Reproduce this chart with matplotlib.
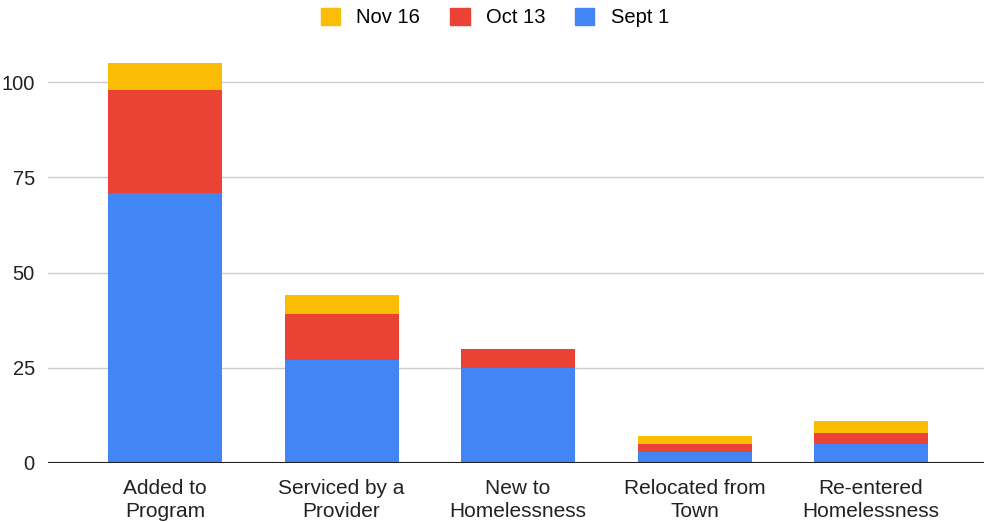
import numpy as np
import matplotlib
matplotlib.use("Agg")
import matplotlib.pyplot as plt
from matplotlib.patches import Patch

plt.rcParams['font.family'] = ['Liberation Sans', 'DejaVu Sans']

categories = ["Added to\nProgram", "Serviced by a\nProvider", "New to\nHomelessness",
              "Relocated from\nTown", "Re-entered\nHomelessness"]
sept_1 = [71, 27, 25, 3, 5]
oct_13 = [27, 12, 5, 2, 3]
nov_16 = [7, 5, 0, 2, 3]

c_blue = "#4285f4"
c_red = "#ea4335"
c_yellow = "#fbbc04"

fig = plt.figure(figsize=(9.84, 5.22), dpi=100)
ax = fig.add_axes([48 / 984, 59 / 522, 936 / 984, 419 / 522])

x = np.arange(len(categories))
w = 0.646
sept = np.array(sept_1)
octo = np.array(oct_13)
nov = np.array(nov_16)
ax.bar(x, sept, width=w, color=c_blue, zorder=2)
ax.bar(x, octo, width=w, bottom=sept, color=c_red, zorder=2)
ax.bar(x, nov, width=w, bottom=sept + octo, color=c_yellow, zorder=2)

ax.set_xlim(-0.663, 4.64)
ax.set_ylim(0, 110)
ax.set_yticks([0, 25, 50, 75, 100])
ax.yaxis.grid(True, color="#cccccc", linewidth=1, zorder=0)
ax.axhline(0, color="#222222", linewidth=1.5, zorder=3)
for s in ax.spines.values():
    s.set_visible(False)
ax.tick_params(axis="both", length=0, colors="#222222")
ax.tick_params(axis="y", pad=9.5, labelsize=14.5)
ax.tick_params(axis="x", pad=11.5, labelsize=15)
ax.set_xticks(x)
ax.set_xticklabels(categories, linespacing=1.28)

handles = [Patch(color=c_yellow), Patch(color=c_red), Patch(color=c_blue)]
fig.legend(handles, ["Nov 16", "Oct 13", "Sept 1"], loc="upper center",
           bbox_to_anchor=(0.503, 1.02), ncol=3, frameon=False, fontsize=14.5,
           handlelength=0.95, handleheight=0.95, handletextpad=0.8, columnspacing=1.5)

fig.savefig("out.png", dpi=100, facecolor="white")
